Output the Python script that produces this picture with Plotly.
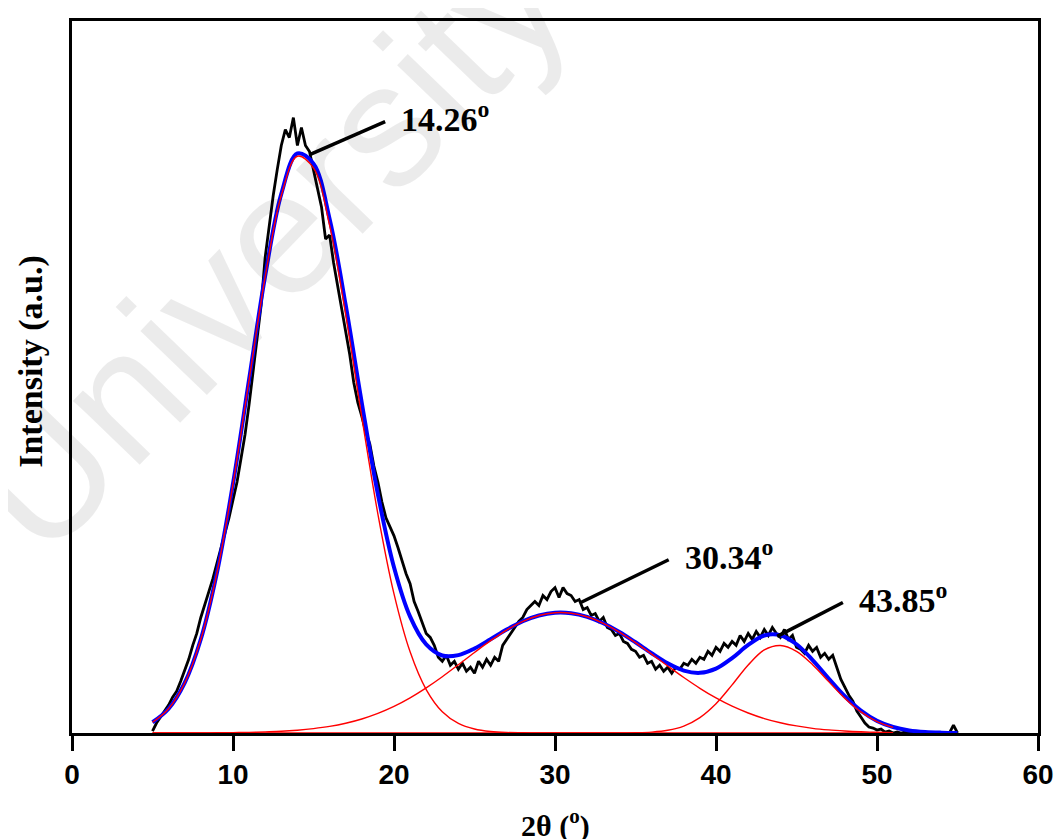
import plotly.graph_objects as go

# ---------------- data ----------------
# observed XRD pattern, 2theta from 5.00 deg in 0.25 deg steps
obs_start = 5.0
obs_step = 0.25
obs_intensity = [
    2, 10, 16, 22, 28, 36, 42, 52, 62, 74, 88, 100, 116, 130, 142, 155, 170, 184, 200, 216,
    234, 252, 276, 300, 330, 362, 394, 430, 478, 512, 540, 566, 590, 606, 598, 618, 590, 608, 590, 584,
    566, 548, 528, 496, 500, 472, 450, 426, 406, 380, 352, 332, 318, 302, 290, 268, 252, 232, 216, 206,
    198, 186, 172, 160, 150, 132, 122, 110, 100, 96, 88, 76, 72, 78, 68, 72, 64, 70, 62, 66,
    60, 72, 66, 74, 68, 76, 72, 88, 94, 100, 106, 112, 116, 124, 128, 132, 128, 138, 134, 142,
    146, 136, 146, 140, 138, 132, 134, 124, 126, 118, 120, 112, 116, 106, 104, 98, 100, 92, 90, 84,
    82, 76, 78, 70, 72, 64, 68, 62, 66, 60, 66, 64, 70, 68, 74, 70, 76, 74, 82, 78,
    86, 82, 90, 86, 92, 88, 98, 92, 100, 94, 102, 96, 104, 98, 106, 100, 96, 104, 94, 98,
    86, 84, 80, 88, 82, 86, 76, 80, 74, 78, 66, 54, 46, 38, 32, 22, 16, 10, 6, 5,
    3, 4, 1, 2, 0, 1, 0, 1, 0, 0, 0, 0, 0, 0, 0, 0, 0, 0, 0, 8,
    0,
]

# fitted components, sampled every 1 deg
fit_x = [5, 6, 7, 8, 9, 10, 11, 12, 13, 14, 15, 16, 17, 18, 19, 20, 21, 22, 23, 24,
         25, 26, 27, 28, 29, 30, 31, 32, 33, 34, 35, 36, 37, 38, 39, 40, 41, 42, 43, 44,
         45, 46, 47, 48, 49, 50, 51, 52, 53, 54, 55]
peak1 = [10.8, 24.4, 50.2, 94.0, 160.6, 250.0, 354.5, 458.2, 539.7, 579.2, 567.4, 509.7, 419.8, 317.3,
         219.9, 139.7, 81.5, 43.6, 21.3, 9.6, 4.0, 1.5, 0.5, 0.2, 0, 0, 0, 0, 0, 0, 0, 0, 0, 0, 0, 0,
         0, 0, 0, 0, 0, 0, 0, 0, 0, 0, 0]
peak2 = [0.0, 0.0, 0.1, 0.1, 0.2, 0.4, 0.6, 1.1, 1.7, 2.8, 4.4, 6.6, 9.8, 14.1, 19.7, 26.7, 35.3, 45.3,
         56.5, 68.6, 80.9, 92.7, 103.4, 112.0, 118.0, 120.8, 120.3, 116.7, 110.2, 101.4, 90.8, 79.2,
         67.3, 55.7, 44.9, 35.2, 26.9, 20.1, 14.5, 10.3, 7.1, 4.7, 3.1, 2.0, 1.2, 0.7, 0.4]
peak3 = [0, 0, 0, 0, 0, 0, 0, 0, 0, 0, 0, 0, 0, 0, 0, 0, 0, 0, 0, 0, 0, 0, 0, 0, 0, 0, 0, 0, 0,
         0.1, 0.3, 0.9, 2.7, 7.0, 15.5, 29.4, 48.3, 68.3, 83.4, 87.9, 82.0, 68.6, 51.6, 34.9, 21.2,
         11.5, 5.6]
fit_total = [10.8, 24.4, 50.3, 94.1, 160.8, 250.4, 355.1, 459.3, 541.4, 582.0, 571.8, 516.3, 429.6,
             331.4, 239.6, 166.4, 116.8, 88.9, 77.8, 78.2, 84.9, 94.2, 103.9, 112.2, 118.0, 120.8,
             120.3, 116.7, 110.2, 101.5, 91.1, 80.1, 70.0, 62.7, 60.4, 64.6, 75.2, 88.4, 97.9, 98.2,
             89.1, 73.3, 54.7, 36.9, 22.4, 12.2, 6.0, 2.6, 1.0, 0.35, 0.1]

# peak labels: (text, pointer start x, y, pointer end x, y)
peak_labels = ["14.26", "30.34", "43.85"]
pointer_from = [(14.8, 581), (31.6, 131), (43.8, 97)]
pointer_to = [(19.45, 614), (37.06, 174), (47.88, 131)]

x_ticks = [0, 10, 20, 30, 40, 50, 60]

# ---------------- figure ----------------
obs_x = [obs_start + obs_step * i for i in range(len(obs_intensity))]

fig = go.Figure()
fig.add_trace(go.Scatter(x=obs_x, y=obs_intensity, mode="lines",
                         line=dict(color="black", width=2.8), showlegend=False))
fig.add_trace(go.Scatter(x=fit_x, y=fit_total, mode="lines",
                         line=dict(color="#0000ff", width=4, shape="spline"), showlegend=False))
n_red = len(peak1)
for comp in (peak1, peak2, peak3):
    fig.add_trace(go.Scatter(x=fit_x[:n_red], y=comp, mode="lines",
                             line=dict(color="#ff0000", width=1.4, shape="spline"),
                             showlegend=False))

for (x0, y0), (x1, y1) in zip(pointer_from, pointer_to):
    fig.add_shape(type="line", x0=x0, y0=y0, x1=x1, y1=y1,
                  line=dict(color="black", width=3.5))

for lab, (x1, y1) in zip(peak_labels, pointer_to):
    fig.add_annotation(x=x1, y=y1, xref="x", yref="y", text=lab + "<sup>o</sup>",
                       showarrow=False, xanchor="left", yanchor="middle", xshift=14, yshift=5,
                       font=dict(family="Liberation Serif", size=34, color="black", weight="bold"))

# faint watermark
fig.add_annotation(x=(268 - 72) / 971, y=(733 - 243) / 715, xref="paper", yref="paper",
                   text="University", showarrow=False, textangle=-46,
                   xanchor="center", yanchor="middle",
                   font=dict(family="Liberation Sans", size=175, color="rgba(0,0,0,0.08)"))

# axis titles
fig.add_annotation(x=0.5, y=(733 - 824) / 715, xref="paper", yref="paper",
                   text="2θ (<sup>o</sup>)", showarrow=False, xanchor="center", yanchor="middle",
                   font=dict(family="Liberation Serif", size=30, color="black", weight="bold"))
fig.add_annotation(x=(30 - 72) / 971, y=(733 - 360) / 715, xref="paper", yref="paper",
                   text="Intensity (a.u.)", showarrow=False, textangle=-90,
                   xanchor="center", yanchor="middle",
                   font=dict(family="Liberation Serif", size=34, color="black", weight="bold"))

fig.update_xaxes(range=[0, 60], tickvals=x_ticks, ticks="outside", ticklen=15, tickwidth=2.5,
                 tickcolor="black", showline=True, linecolor="black", linewidth=2.5, mirror=True,
                 showgrid=False, zeroline=False,
                 tickfont=dict(family="Liberation Sans", size=28, color="black", weight="bold"))
fig.update_yaxes(range=[0, 715], showticklabels=False, ticks="", showline=True,
                 linecolor="black", linewidth=2.5, mirror=True, showgrid=False, zeroline=False)

# the page adds an 8px body margin, so the figure is drawn 8px smaller
fig.update_layout(width=1056, height=831, plot_bgcolor="white", paper_bgcolor="white",
                  margin=dict(l=64, r=21, t=10, b=106), showlegend=False)

fig.write_html("out.html")
